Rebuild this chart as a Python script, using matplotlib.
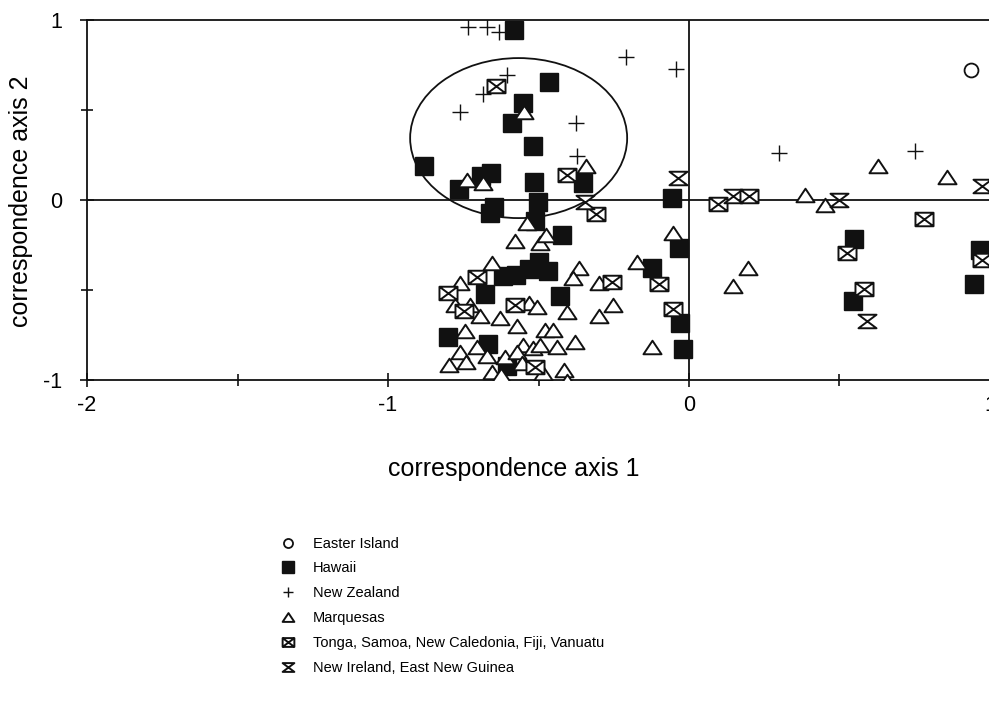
import numpy as np
import matplotlib
matplotlib.use("Agg")
import matplotlib.pyplot as plt
from matplotlib.path import Path
from matplotlib.patches import Ellipse
from matplotlib.ticker import MultipleLocator

plt.rcParams['font.family'] = ['Liberation Sans', 'DejaVu Sans']
plt.rcParams['axes.unicode_minus'] = False

# ---- data ----
easter_x = [0.936]
easter_y = [0.72]

hawaii_x = [-0.581, -0.464, -0.553, -0.589, -0.519, -0.879, -0.659, -0.691, -0.763, -0.514,
            -0.353, -0.503, -0.647, -0.661, -0.512, -0.423, -0.057, -0.033, -0.500, -0.467,
            -0.531, -0.575, -0.617, -0.678, -0.429, -0.124, -0.030, -0.021, -0.802, -0.667,
            -0.606, 0.549, 0.546, 0.967, 0.948]
hawaii_y = [0.944, 0.654, 0.537, 0.426, 0.300, 0.189, 0.152, 0.133, 0.059, 0.098,
            0.096, -0.009, -0.037, -0.070, -0.117, -0.194, 0.009, -0.268, -0.347, -0.394,
            -0.383, -0.417, -0.422, -0.525, -0.531, -0.379, -0.685, -0.829, -0.759, -0.800,
            -0.922, -0.217, -0.559, -0.278, -0.467]

nz_x = [-0.733, -0.670, -0.631, -0.604, -0.683, -0.761, -0.209, -0.043, -0.375, -0.373, 0.300, 0.751]
nz_y = [0.959, 0.959, 0.935, 0.694, 0.589, 0.491, 0.796, 0.728, 0.426, 0.244, 0.263, 0.274]

marq_x = [-0.548, -0.739, -0.683, -0.342, -0.539, -0.578, -0.495, -0.475, -0.052,
          -0.656, -0.761, -0.365, -0.387, -0.174, -0.298, -0.777, -0.728, -0.694, -0.627,
          -0.531, -0.506, -0.407, -0.253, -0.298, -0.573, -0.744, -0.478, -0.452, -0.761,
          -0.705, -0.671, -0.611, -0.550, -0.517, -0.573, -0.495, -0.440, -0.379, -0.124,
          -0.799, -0.655, -0.626, -0.556, -0.484, -0.415, -0.407, -0.741,
          0.385, 0.452, 0.629, 0.856, 0.197, 0.145]
marq_y = [0.491, 0.111, 0.093, 0.189, -0.130, -0.228, -0.239, -0.194, -0.185,
          -0.350, -0.463, -0.378, -0.432, -0.342, -0.463, -0.583, -0.583, -0.644, -0.657,
          -0.574, -0.594, -0.625, -0.583, -0.644, -0.700, -0.728, -0.722, -0.722, -0.843,
          -0.815, -0.869, -0.870, -0.806, -0.824, -0.843, -0.806, -0.814, -0.787, -0.815,
          -0.919, -0.956, -0.972, -0.907, -0.963, -0.944, -1.006, -0.898,
          0.028, -0.028, 0.189, 0.130, -0.379, -0.478]

tonga_x = [-0.642, -0.406, -0.309, -0.703, -0.800, -0.577, -0.749, -0.257, -0.099, -0.054,
           -0.512, 0.098, 0.200, 0.526, 0.581, 0.782, 0.972]
tonga_y = [0.635, 0.139, -0.079, -0.428, -0.516, -0.583, -0.617, -0.454, -0.469, -0.607,
           -0.926, -0.024, 0.024, -0.296, -0.496, -0.106, -0.333]

nireland_x = [-0.036, -0.347, 0.147, 0.500, 0.972, 0.593]
nireland_y = [0.121, -0.009, 0.022, 0.000, 0.078, -0.672]

labels = ['Easter Island', 'Hawaii', 'New Zealand', 'Marquesas',
          'Tonga, Samoa, New Caledonia, Fiji, Vanuatu', 'New Ireland, East New Guinea']

# ---- custom marker shapes ----
tri = Path([(-1, -0.75), (1, -0.75), (0, 0.75), (-1, -0.75)],
           [Path.MOVETO, Path.LINETO, Path.LINETO, Path.CLOSEPOLY])
boxx = Path([(-1, -0.75), (1, -0.75), (1, 0.75), (-1, 0.75), (-1, -0.75),
             (-1, -0.75), (1, 0.75), (-1, 0.75), (1, -0.75)],
            [Path.MOVETO, Path.LINETO, Path.LINETO, Path.LINETO, Path.CLOSEPOLY,
             Path.MOVETO, Path.LINETO, Path.MOVETO, Path.LINETO])
hourglass = Path([(-1, 0.75), (1, 0.75), (-1, -0.75), (1, -0.75), (-1, 0.75)],
                 [Path.MOVETO, Path.LINETO, Path.LINETO, Path.LINETO, Path.CLOSEPOLY])

fig = plt.figure(figsize=(9.89, 7.02), dpi=100)
ax = fig.add_axes([0.088, 0.4587, 0.913, 0.5128])

ink = '#111111'
ax.axhline(0, color=ink, lw=1.3, zorder=1)
ax.axvline(0, color=ink, lw=1.3, zorder=1)
ax.add_patch(Ellipse((-0.566, 0.344), 0.721, 0.889, fill=False, ec=ink, lw=1.3, zorder=2))

h_haw, = ax.plot(hawaii_x, hawaii_y, ls='none', marker='s', ms=12.5, mfc=ink, mec=ink, zorder=3)
h_mar, = ax.plot(marq_x, marq_y, ls='none', marker=tri, ms=13, mfc='white', mec=ink, mew=1.4, zorder=4)
h_ton, = ax.plot(tonga_x, tonga_y, ls='none', marker=boxx, ms=13, mfc='white', mec=ink, mew=1.4, zorder=4)
h_nir, = ax.plot(nireland_x, nireland_y, ls='none', marker=hourglass, ms=13, mfc='white', mec=ink, mew=1.4, zorder=4)
h_nz, = ax.plot(nz_x, nz_y, ls='none', marker='+', ms=12, mec=ink, mew=1.0, zorder=5)
h_eas, = ax.plot(easter_x, easter_y, ls='none', marker='o', ms=10, mfc='white', mec=ink, mew=1.3, zorder=5)

ax.set_xlim(-2, 1)
ax.set_ylim(-1, 1)
ax.xaxis.set_major_locator(MultipleLocator(1))
ax.xaxis.set_minor_locator(MultipleLocator(0.5))
ax.yaxis.set_major_locator(MultipleLocator(1))
ax.yaxis.set_minor_locator(MultipleLocator(0.5))
ax.tick_params(which='major', direction='inout', length=10, width=1.2, color=ink, labelsize=15.5)
ax.tick_params(which='minor', direction='inout', length=8, width=1.2, color=ink)
ax.tick_params(axis='x', which='major', pad=6)
ax.tick_params(axis='y', which='major', pad=13)
for s in ['left', 'bottom', 'top']:
    ax.spines[s].set_linewidth(1.3)
    ax.spines[s].set_color(ink)
ax.spines['right'].set_visible(False)

ax.set_xlabel('correspondence axis 1', fontsize=18)
ax.set_ylabel('correspondence axis 2', fontsize=18)
ax.xaxis.set_label_coords(0.473, -0.215)
ax.yaxis.set_label_coords(-0.06, 0.497)

fig.legend([h_eas, h_haw, h_nz, h_mar, h_ton, h_nir], labels,
           loc='upper left', bbox_to_anchor=(0.284, 0.2355), frameon=False,
           fontsize=10.5, markerscale=0.65, handlelength=1.0, handletextpad=1.2,
           labelspacing=0.74, borderpad=0, borderaxespad=0)

fig.savefig('out.png', dpi=100)
